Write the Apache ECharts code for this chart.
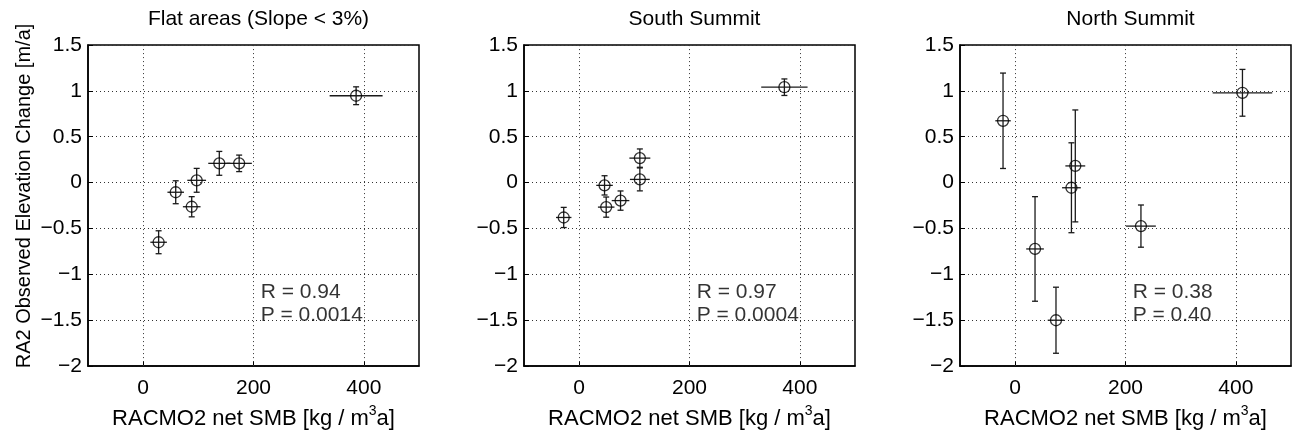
<!DOCTYPE html>
<html>
<head>
<meta charset="utf-8">
<script src="https://cdn.jsdelivr.net/npm/echarts@6/dist/echarts.min.js"></script>
<style>
html,body{margin:0;padding:0;background:#fff;}
#chart{width:1292px;height:435px;}
</style>
</head>
<body>
<div id="chart"></div>
<script>
// ---- Data ----
var panelTitles = ['Flat areas (Slope < 3%)', 'South Summit', 'North Summit'];

var flatX    = [28, 59, 88, 97, 138, 174, 386];
var flatY    = [-0.65, -0.105, -0.263, 0.025, 0.21, 0.21, 0.947];
var flatXErr = [15, 15, 16, 17, 20, 23, 48];
var flatYErr = [0.125, 0.125, 0.11, 0.13, 0.13, 0.09, 0.097];

var southX    = [-28, 46, 49, 75, 110, 110, 372];
var southY    = [-0.38, -0.03, -0.267, -0.196, 0.267, 0.035, 1.04];
var southXErr = [14, 15, 15, 16, 19, 18, 42];
var southYErr = [0.11, 0.105, 0.11, 0.105, 0.1, 0.125, 0.09];

var northX    = [-22, 36, 74, 102, 109, 228, 412];
var northY    = [0.674, -0.723, -1.50, -0.056, 0.182, -0.474, 0.979];
var northXErr = [14, 16, 15, 17, 18, 27, 54];
var northYErr = [0.52, 0.57, 0.36, 0.49, 0.61, 0.23, 0.255];

var rTexts = ['R = 0.94', 'R = 0.97', 'R = 0.38'];
var pTexts = ['P = 0.0014', 'P = 0.0004', 'P = 0.40'];
var annotX = 213, rAnnotY = -1.19, pAnnotY = -1.45;

var xTicks = [0, 200, 400];
var xMin = -100, xMax = 500;
var yMin = -2, yMax = 1.5, yStep = 0.5;

var yName = 'RA2 Observed Elevation Change [m/a]';

// ---- Layout ----
var FONT = 'Liberation Sans';
var FS = 21;
var gridLefts = [88, 524, 960];
var gridW = 331, gridTop = 45, gridH = 331;

var panels = [
  {x: flatX, y: flatY, xe: flatXErr, ye: flatYErr},
  {x: southX, y: southY, xe: southXErr, ye: southYErr},
  {x: northX, y: northY, xe: northXErr, ye: northYErr}
];

function fmtY(v){
  var s = String(Math.abs(v));
  return v < 0 ? '\u2212' + s : s;
}

var grids = [], xAxes = [], yAxes = [], series = [], titles = [];
var gridLineStyle = {color: '#333', width: 1, type: [1, 3]};

panels.forEach(function(p, i){
  grids.push({left: gridLefts[i], top: gridTop, width: gridW, height: gridH,
    show: true, borderColor: '#000', borderWidth: 1.5, backgroundColor: 'transparent'});
  titles.push({text: panelTitles[i], left: gridLefts[i] + gridW / 2, top: 4, textAlign: 'center',
    textStyle: {fontFamily: FONT, fontSize: FS, fontWeight: 'normal', color: '#000'}});
  xAxes.push({
    gridIndex: i, type: 'value', min: xMin, max: xMax,
    axisLine: {show: true, onZero: false, lineStyle: {color: '#000', width: 1.5}},
    axisTick: {show: true, inside: true, length: 5, customValues: xTicks, lineStyle: {color: '#000'}},
    axisLabel: {show: true, customValues: xTicks, margin: 12, color: '#000', fontFamily: FONT, fontSize: FS},
    splitLine: {show: false},
    name: '{a|RACMO2 net SMB [kg / m}{s|3}{a|a]}',
    nameLocation: 'middle', nameGap: 35,
    nameTextStyle: {fontFamily: FONT, fontSize: 22, color: '#000',
      rich: {
        a: {fontFamily: FONT, fontSize: 22, color: '#000', lineHeight: 26, verticalAlign: 'bottom'},
        s: {fontFamily: FONT, fontSize: 14, color: '#000', lineHeight: 26, verticalAlign: 'top', padding: [0, 0, 10, 0]}
      }}
  });
  yAxes.push({
    gridIndex: i, type: 'value', min: yMin, max: yMax, interval: yStep,
    axisLine: {show: true, onZero: false, lineStyle: {color: '#000', width: 1.5}},
    axisTick: {show: true, inside: true, length: 5, lineStyle: {color: '#000'}},
    axisLabel: {show: true, margin: 6, color: '#000', fontFamily: FONT, fontSize: FS, formatter: fmtY},
    splitLine: {show: true, lineStyle: gridLineStyle}
  });

  var errData = p.x.map(function(xv, k){ return [xv, p.y[k], p.xe[k], p.ye[k]]; });
  series.push({
    type: 'custom', xAxisIndex: i, yAxisIndex: i, z: 3,
    encode: {x: 0, y: 1},
    data: errData,
    markLine: {
      silent: true, symbol: 'none', label: {show: false},
      lineStyle: gridLineStyle, animation: false,
      data: xTicks.map(function(t){ return {xAxis: t}; })
    },
    renderItem: function(params, api){
      var xv = api.value(0), yv = api.value(1), xe = api.value(2), ye = api.value(3);
      var L = api.coord([xv - xe, yv]), R = api.coord([xv + xe, yv]);
      var T = api.coord([xv, yv + ye]), B = api.coord([xv, yv - ye]);
      var cap = 3;
      var st = {stroke: '#1a1a1a', lineWidth: 1.3};
      return {type: 'group', children: [
        {type: 'line', shape: {x1: L[0], y1: L[1], x2: R[0], y2: R[1]}, style: st},
        {type: 'line', shape: {x1: T[0], y1: T[1], x2: B[0], y2: B[1]}, style: st},
        {type: 'line', shape: {x1: T[0] - cap, y1: T[1], x2: T[0] + cap, y2: T[1]}, style: st},
        {type: 'line', shape: {x1: B[0] - cap, y1: B[1], x2: B[0] + cap, y2: B[1]}, style: st}
      ]};
    }
  });
  series.push({
    type: 'scatter', xAxisIndex: i, yAxisIndex: i, z: 4,
    symbol: 'circle', symbolSize: 11,
    itemStyle: {color: 'rgba(0,0,0,0)', borderColor: '#000', borderWidth: 1.3},
    data: p.x.map(function(xv, k){ return [xv, p.y[k]]; })
  });
  series.push({
    type: 'scatter', xAxisIndex: i, yAxisIndex: i, z: 5, symbolSize: 0, silent: true,
    data: [
      {value: [annotX, rAnnotY], name: rTexts[i]},
      {value: [annotX, pAnnotY], name: pTexts[i]}
    ],
    label: {show: true, position: 'inside', align: 'left', verticalAlign: 'middle',
      formatter: function(d){ return d.name; },
      color: '#000', textBorderWidth: 0, textBorderColor: 'transparent',
      fontFamily: FONT, fontSize: FS}
  });
});

var chart = echarts.init(document.getElementById('chart'), null, {renderer: 'canvas'});
chart.setOption({
  animation: false,
  backgroundColor: '#fff',
  title: titles,
  grid: grids,
  xAxis: xAxes,
  yAxis: yAxes,
  series: series,
  graphic: [{
    type: 'text', x: 24, y: 196, rotation: Math.PI / 2,
    style: {text: yName, fill: '#000', font: '20px "' + FONT + '"',
      textAlign: 'center', textVerticalAlign: 'middle', align: 'center', verticalAlign: 'middle'}
  }]
});
</script>
</body>
</html>
